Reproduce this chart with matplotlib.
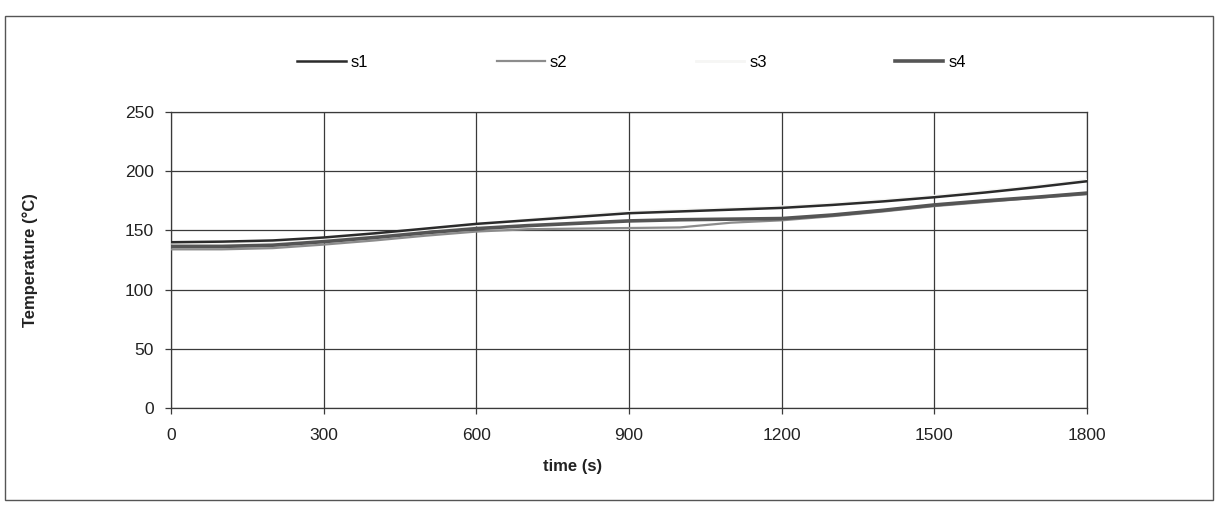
import matplotlib
matplotlib.use("Agg")
import matplotlib.pyplot as plt
from matplotlib.patches import Rectangle

plt.rcParams['font.family'] = ['Liberation Sans', 'DejaVu Sans']

# time axis (s) and the four temperature traces (deg C)
time_s = [0, 100, 200, 300, 400, 500, 600, 700, 800, 900,
          1000, 1100, 1200, 1300, 1400, 1500, 1600, 1700, 1800]
s1 = [140, 140.5, 141.5, 144, 147.5, 151.5, 155.5, 158.5, 161.5, 164.5,
      166, 167.5, 169, 171.5, 174.5, 178, 182, 186.5, 191.5]
s2 = [134, 134, 135, 138, 141.5, 145.5, 149, 151, 151.5, 152,
      152.5, 156.5, 158.5, 162, 166, 170.5, 174, 177.5, 180.5]
s3 = [139, 139.5, 140.5, 143, 146.5, 150.5, 154.5, 159, 163, 165.5,
      167, 168.5, 170, 172.5, 175.5, 179, 183, 187.5, 192.5]
s4 = [136.5, 136.5, 137.5, 140.5, 144, 148, 151.5, 154, 156, 158,
      159, 159.5, 160, 163, 167, 171.5, 175, 178, 181.5]

series_names = ['s1', 's2', 's3', 's4']
x_ticks = [0, 300, 600, 900, 1200, 1500, 1800]
y_ticks = [0, 50, 100, 150, 200, 250]

fig = plt.figure(figsize=(12.17, 5.13), dpi=100)
fig.patch.set_facecolor('white')
ax = fig.add_axes([0.1405, 0.2047, 0.7527, 0.577])

ax.plot(time_s, s3, color='#f6f6f4', lw=2.0, label=series_names[2], zorder=3)
ax.plot(time_s, s2, color='#8c8c8c', lw=1.6, label=series_names[1], zorder=4)
ax.plot(time_s, s4, color='#555555', lw=2.6, label=series_names[3], zorder=4)
ax.plot(time_s, s1, color='#2b2b2b', lw=1.8, label=series_names[0], zorder=5)

ax.set_xlim(0, 1800)
ax.set_ylim(0, 250)
ax.set_xticks(x_ticks)
ax.set_yticks(y_ticks)
ax.grid(True, color='#3a3a3a', lw=0.9)
ax.set_axisbelow(True)
for sp in ax.spines.values():
    sp.set_color('#3a3a3a')
    sp.set_linewidth(0.9)
ax.tick_params(axis='both', direction='out', length=4.5, width=0.9,
               color='#3a3a3a', labelsize=12.5, labelcolor='#222222')
ax.tick_params(axis='y', pad=8)
ax.tick_params(axis='x', pad=10)

ax.set_xlabel('time (s)', fontsize=12, fontweight='bold', color='#222222', va='center')
ax.xaxis.set_label_coords(0.438, -0.199)
ax.set_ylabel('Temperature (°C)', fontsize=12, fontweight='bold', color='#222222', va='center')
ax.yaxis.set_label_coords(-0.154, 0.5)

# legend in the order s1..s4
handles, labels = ax.get_legend_handles_labels()
order = [labels.index(n) for n in series_names]
fig.legend([handles[i] for i in order], [labels[i] for i in order],
           loc='center', bbox_to_anchor=(0.519, 0.879), ncol=4, frameon=False,
           fontsize=12, handlelength=2.9, handletextpad=0.3, columnspacing=7.7)

# outer chart border
fig.patches.append(Rectangle((0.004, 0.025), 0.993, 0.944, transform=fig.transFigure,
                             fill=False, edgecolor='#555555', lw=1.0))

fig.savefig('out.png', dpi=100)
